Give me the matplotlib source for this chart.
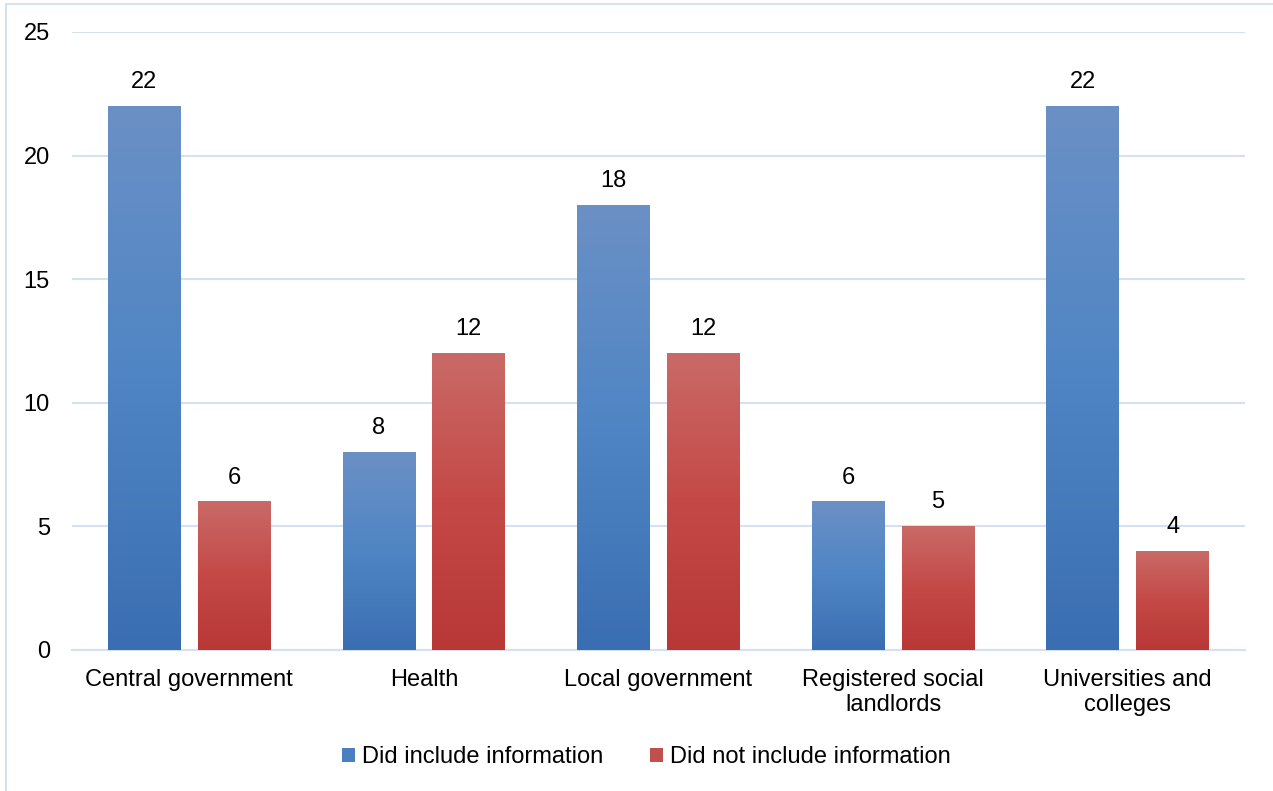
import numpy as np
import matplotlib.pyplot as plt
from matplotlib.colors import LinearSegmentedColormap
from matplotlib.patches import Rectangle

# -------------------- DATA --------------------
categorias = ["Central government", "Health", "Local government",
              "Registered social\nlandlords", "Universities and\ncolleges"]
incluye = [22, 8, 18, 6, 22]
no_incluye = [6, 12, 12, 5, 4]
series = ["Did include information", "Did not include information"]

plt.rcParams['font.family'] = ['Liberation Sans', 'DejaVu Sans']
fs = 17

fig = plt.figure(figsize=(12.73, 7.91), dpi=100)
ax = fig.add_axes([72 / 1273, 141 / 791, (1245 - 72) / 1273, (650 - 32) / 791])

# marco del grafico
fig.patches.append(Rectangle((6 / 1273, -0.1), 1.2, (791 - 4) / 791 + 0.1,
                             transform=fig.transFigure, fill=False,
                             edgecolor='#d6e1f0', linewidth=1.5))

cmap_azul = LinearSegmentedColormap.from_list("azul", ["#3a6eb2", "#4f85c4", "#6b90c6"])
cmap_rojo = LinearSegmentedColormap.from_list("rojo", ["#b83836", "#c44946", "#c96a67"])

x = np.arange(len(categorias))
ancho = 0.31
sep = 0.0725
grad = np.linspace(0, 1, 256).reshape(-1, 1)

for valores, cmap, desp in [(incluye, cmap_azul, -(ancho + sep) / 2),
                            (no_incluye, cmap_rojo, (ancho + sep) / 2)]:
    for xi, v in zip(x, valores):
        x0 = xi + desp - ancho / 2
        ax.imshow(grad, extent=[x0, x0 + ancho, 0, v], origin='lower',
                  cmap=cmap, aspect='auto', zorder=3)
        ax.text(xi + desp, v + 0.97, str(v), ha='center', va='center', fontsize=fs, zorder=4)

ax.set_xlim(-0.5, len(categorias) - 0.5)
ax.set_ylim(0, 25)
ax.set_yticks([0, 5, 10, 15, 20, 25])
ax.set_xticks(x)
ax.set_xticklabels(categorias, fontsize=fs, linespacing=1.17)
ax.tick_params(axis='y', labelsize=fs, length=0, pad=16)
ax.tick_params(axis='x', length=0, pad=14)
ax.grid(axis='y', color='#d6e1f0', linewidth=1.5, zorder=0)
ax.set_axisbelow(True)
for s in ['top', 'right', 'left']:
    ax.spines[s].set_visible(False)
ax.spines['bottom'].set_color('#d6e1f0')
ax.spines['bottom'].set_linewidth(1.5)

# leyenda
h1 = Rectangle((0, 0), 1, 1, facecolor="#4a7fc0")
h2 = Rectangle((0, 0), 1, 1, facecolor="#c0504d")
fig.legend([h1, h2], series, loc='center',
           bbox_to_anchor=(0.5 + 10 / 1273, (791 - 757) / 791),
           ncol=2, frameon=False, fontsize=fs, handlelength=0.55, handleheight=0.55,
           handletextpad=0.3, columnspacing=1.95)

plt.savefig("out.png", dpi=100)
